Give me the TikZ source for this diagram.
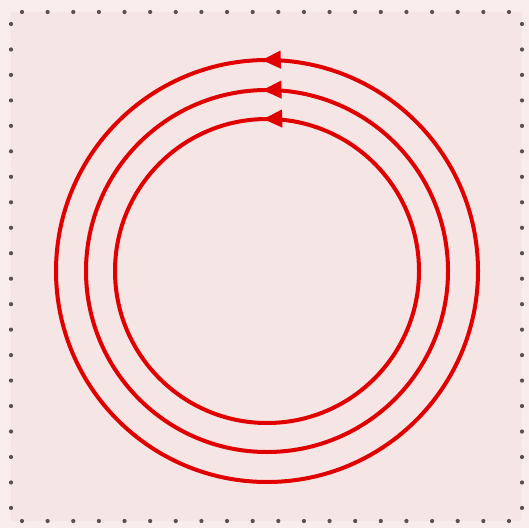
\documentclass[tikz,border=0pt]{standalone}
\usetikzlibrary{arrows.meta,decorations.markings}
\definecolor{bgpink}{HTML}{F8ECEC}
\definecolor{panelpink}{HTML}{F5E5E5}
\definecolor{loopred}{HTML}{E00000}
\definecolor{dotgray}{HTML}{5A5050}
\tikzset{
  loop/.style={draw=loopred, line width=4pt,
    postaction={decorate},
    decoration={markings, mark=at position 0.254 with {\arrow{Triangle[length=19pt,width=17pt]}}}},
  borderdot/.style={fill=dotgray, draw=none},
}
\begin{document}
\begin{tikzpicture}[x=1pt,y=1pt]
\useasboundingbox (0,0) rectangle (529,528);
\fill[bgpink] (0,0) rectangle (529,528);
\fill[panelpink] (11,7) rectangle (522,516);
\foreach \k in {0,...,19}{
  \fill[borderdot] ({22+\k*25.63},516) circle (2.1pt);
  \fill[borderdot] ({22+\k*25.63},7) circle (2.1pt);
  \fill[borderdot] (11,{504-\k*25.47}) circle (2.1pt);
  \fill[borderdot] (522,{504-\k*25.47}) circle (2.1pt);
}
\coordinate (c) at (267,257);
\draw[loop, loopred] (c) circle[radius=211pt];
\draw[loop, loopred] (c) circle[radius=181pt];
\draw[loop, loopred] (c) circle[radius=152pt];
\end{tikzpicture}
\end{document}
